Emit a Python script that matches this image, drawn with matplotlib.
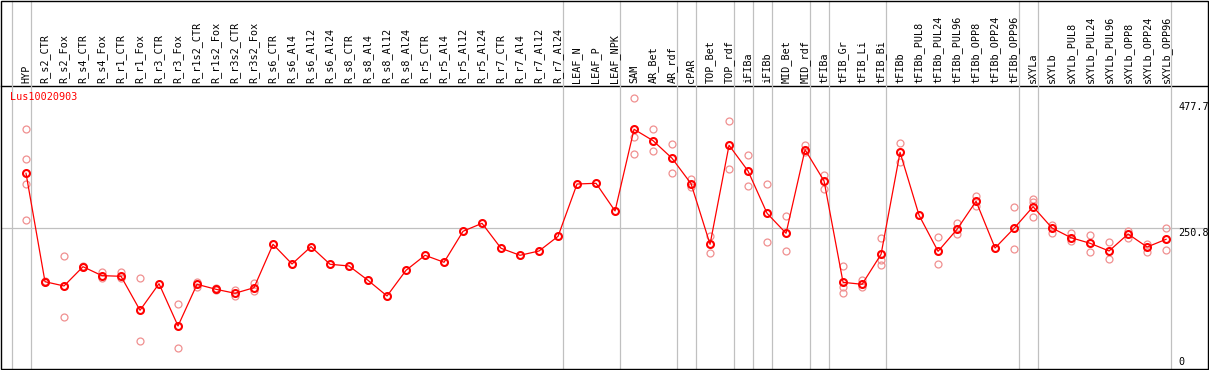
import matplotlib.pyplot as plt
from matplotlib.patches import Rectangle

# categories (sample names) along the x axis
labels = ['HYP', 'R_s2_CTR', 'R_s2_Fox', 'R_s4_CTR', 'R_s4_Fox', 'R_r1_CTR', 'R_r1_Fox',
          'R_r3_CTR', 'R_r3_Fox', 'R_r1s2_CTR', 'R_r1s2_Fox', 'R_r3s2_CTR', 'R_r3s2_Fox',
          'R_s6_CTR', 'R_s6_Al4', 'R_s6_Al12', 'R_s6_Al24', 'R_s8_CTR', 'R_s8_Al4',
          'R_s8_Al12', 'R_s8_Al24', 'R_r5_CTR', 'R_r5_Al4', 'R_r5_Al12', 'R_r5_Al24',
          'R_r7_CTR', 'R_r7_Al4', 'R_r7_Al12', 'R_r7_Al24', 'LEAF_N', 'LEAF_P', 'LEAF_NPK',
          'SAM', 'AR_Bet', 'AR_rdf', 'cPAR', 'TOP_Bet', 'TOP_rdf', 'iFIBa', 'iFIBb',
          'MID_Bet', 'MID_rdf', 'tFIBa', 'tFIB_Gr', 'tFIB_Li', 'tFIB_Bi', 'tFIBb',
          'tFIBb_PUL8', 'tFIBb_PUL24', 'tFIBb_PUL96', 'tFIBb_OPP8', 'tFIBb_OPP24', 'tFIBb_OPP96',
          'sXYLa', 'sXYLb', 'sXYLb_PUL8', 'sXYLb_PUL24', 'sXYLb_PUL96', 'sXYLb_OPP8',
          'sXYLb_OPP24', 'sXYLb_OPP96']

# number of samples in each tissue group (gray separators)
group_sizes = [1, 28, 3, 3, 1, 2, 1, 1, 2, 1, 3, 7, 1, 7]

# mean expression per sample
means = [350.2, 154.3, 146.6, 181.4, 165.2, 164.1, 102.7, 150.7, 74.3, 149.6, 140.6, 133.4, 143.5,
         221.9, 186.3, 217.6, 185.8, 182.7, 156.8, 128.5, 174.9, 202.0, 189.4, 245.4, 259.8,
         214.7, 202.0, 209.8, 236.3, 330.8, 332.1, 282.1,
         429.7, 409.1, 377.3, 331.4, 221.9, 400.8, 354.3, 277.9, 241.8, 392.8, 336.3,
         153.2, 149.6, 203.8, 388.1,
         274.3, 209.2, 249.0, 299.6, 215.2, 250.8,
         289.8, 251.3, 233.8, 223.7, 209.8, 240.5, 217.0, 230.9]

# individual replicates per sample
reps = [[430.2, 375.5, 330.3, 265.3], [155.6, 152.9], [200.7, 90.0], [182.7, 180.9],
        [172.4, 160.5], [171.3, 161.5], [160.5, 47.2], [], [114.0, 34.0], [153.2, 145.3],
        [142.4, 139.3], [139.3, 128.5], [151.4, 137.5],
        [], [], [], [], [], [], [], [], [], [], [], [], [], [], [], [], [], [], [],
        [485.7, 415.2, 384.5], [429.7, 389.9], [403.1, 350.2], [339.3, 324.9], [237.4, 205.6],
        [444.1, 357.4], [382.7, 326.7], [330.3, 225.5], [273.0, 209.2], [401.3, 389.2],
        [347.1, 321.3], [182.1, 144.2, 133.4], [157.4, 144.8], [232.7, 184.0, 193.5],
        [404.9, 371.1],
        [], [234.5, 185.8], [259.8, 240.0], [309.2, 291.6], [], [288.7, 212.9],
        [303.2, 297.8, 271.2], [257.3, 242.9], [242.3, 227.9], [238.7, 207.4],
        [225.5, 194.8], [246.5, 233.8], [222.4, 207.4], [250.8, 211.1]]

gene = 'Lus10020903'
y_marks = [477.7, 250.8]

W, H = 1209, 370
fig = plt.figure(figsize=(W / 100, H / 100), dpi=100)
ax = fig.add_axes([0.5 / W, 1.5 / H, 1207 / W, 282.8 / H])
ax.set_xlim(-1.342, 62.18)
ax.set_ylim(-2.5, 508.4)
ax.axis('off')

mono = 'DejaVu Sans Mono'
fs = 7.3

# outer frame + divider under the labels
fig.add_artist(Rectangle((0.5 / W, 1.5 / H), 1207 / W, 368 / H, transform=fig.transFigure,
                         fill=False, edgecolor='black', linewidth=1.0))
ax.axhline(508.4, color='black', lw=1.0, clip_on=False)

# group separators
pos = -1
ax.axvline(pos + 0.25, ymin=0, ymax=368 / 282.8, color='#c0c0c0', lw=0.9, clip_on=False)
for g in group_sizes:
    pos += g
    ax.axvline(pos + 0.25, ymin=0, ymax=368 / 282.8, color='#c0c0c0', lw=0.9, clip_on=False)

ax.axhline(y_marks[1], color='#c0c0c0', lw=0.9)

xs = list(range(len(labels)))
for i, r in enumerate(reps):
    if r:
        ax.plot([i] * len(r), r, 'o', ms=5, mfc='none', mec='#f09090', mew=0.9, zorder=2)
ax.plot(xs, means, '-', color='red', lw=0.9, zorder=3)
ax.plot(xs, means, 'o', ms=5, mfc='none', mec='red', mew=1.5, zorder=4)

for i, lab in enumerate(labels):
    ax.text(i, 1.0095, lab, transform=ax.get_xaxis_transform(), rotation=90,
            ha='center', va='bottom', fontsize=fs, family=mono, clip_on=False)

for v in y_marks:
    ax.annotate('%.1f' % v, (60.63, v), xytext=(0, -4.5), textcoords='offset pixels',
                ha='left', va='center', fontsize=fs, family=mono)
ax.annotate('0', (60.63, 0), xytext=(0, 5.4), textcoords='offset pixels',
            ha='left', va='center', fontsize=fs, family=mono)

ax.text(9.5 / 1207, 0.960, gene, transform=ax.transAxes, color='red',
        ha='left', va='center', fontsize=fs, family=mono)

fig.savefig('out.png', dpi=100)
